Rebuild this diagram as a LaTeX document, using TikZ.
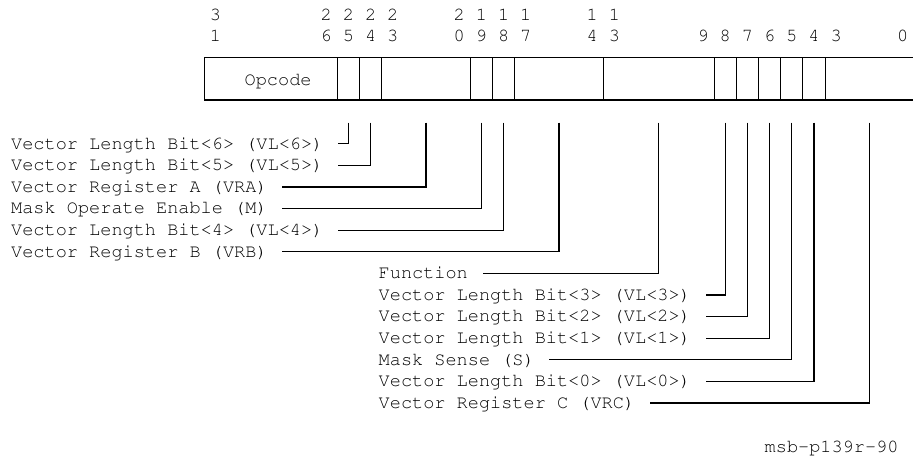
\documentclass[tikz,border=0pt]{standalone}
\usepackage[T1]{fontenc}
\usepackage{courier}
\begin{document}
\begin{tikzpicture}[x=1pt,y=-1pt,
  font=\fontsize{18.58}{21.6}\selectfont\ttfamily,
  field/.style={draw, line width=1.1pt, minimum height=42.3pt, inner sep=0pt, outer sep=0pt, anchor=north west},
  lab/.style={anchor=west, inner xsep=14.5pt, inner ysep=0pt, text height=10.6pt, text depth=0pt},
  conn/.style={line width=1.1pt},
  digit/.style={anchor=base, inner sep=0pt}]
\useasboundingbox (0,0) rectangle (913,460);
\fill[white] (0,0) rectangle (913,460);
% bit numbers
\foreach \b/\t/\u in {31/3/1,26/2/6,25/2/5,24/2/4,23/2/3,20/2/0,19/1/9,18/1/8,17/1/7,14/1/4,13/1/3}{
  \node[digit] (t\b) at ({204.3+(31.5-\b)*22.17}, 20.7) {\t};
  \node[digit] (u\b) at ({204.3+(31.5-\b)*22.17}, 41.7) {\u};
}
\foreach \b in {9,8,7,6,5,4,3,0}{
  \node[digit] (u\b) at ({204.3+(31.5-\b)*22.17}, 41.7) {\b};
}
% fields
\node[field, minimum width=6*22.17pt] (op)  at ({204.3+0*22.17},57.7) {};
\node[field, minimum width=1*22.17pt] (vl6) at ({204.3+6*22.17},57.7) {};
\node[field, minimum width=1*22.17pt] (vl5) at ({204.3+7*22.17},57.7) {};
\node[field, minimum width=4*22.17pt] (vra) at ({204.3+8*22.17},57.7) {};
\node[field, minimum width=1*22.17pt] (m)   at ({204.3+12*22.17},57.7) {};
\node[field, minimum width=1*22.17pt] (vl4) at ({204.3+13*22.17},57.7) {};
\node[field, minimum width=4*22.17pt] (vrb) at ({204.3+14*22.17},57.7) {};
\node[field, minimum width=5*22.17pt] (fn)  at ({204.3+18*22.17},57.7) {};
\node[field, minimum width=1*22.17pt] (vl3) at ({204.3+23*22.17},57.7) {};
\node[field, minimum width=1*22.17pt] (vl2) at ({204.3+24*22.17},57.7) {};
\node[field, minimum width=1*22.17pt] (vl1) at ({204.3+25*22.17},57.7) {};
\node[field, minimum width=1*22.17pt] (s)   at ({204.3+26*22.17},57.7) {};
\node[field, minimum width=1*22.17pt] (vl0) at ({204.3+27*22.17},57.7) {};
\node[field, minimum width=4*22.17pt] (vrc) at ({204.3+28*22.17},57.7) {};
\node[anchor=base west, inner sep=0pt] (optext) at (244.5,85.5) {Opcode};
% labels
\node[lab] (lvl6) at (-3.5,143.8) {Vector Length Bit<6> (VL<6>)};
\node[lab] (lvl5) at (-3.5,165.4) {Vector Length Bit<5> (VL<5>)};
\node[lab] (lvra) at (-3.5,187.0) {Vector Register A (VRA)};
\node[lab] (lm)   at (-3.5,208.6) {Mask Operate Enable (M)};
\node[lab] (lvl4) at (-3.5,230.2) {Vector Length Bit<4> (VL<4>)};
\node[lab] (lvrb) at (-3.5,251.8) {Vector Register B (VRB)};
\node[lab] (lfn)  at (364,273.4) {Function};
\node[lab] (lvl3) at (364,295.0) {Vector Length Bit<3> (VL<3>)};
\node[lab] (lvl2) at (364,316.6) {Vector Length Bit<2> (VL<2>)};
\node[lab] (lvl1) at (364,338.2) {Vector Length Bit<1> (VL<1>)};
\node[lab] (ls)   at (364,359.8) {Mask Sense (S)};
\node[lab] (lvl0) at (364,381.4) {Vector Length Bit<0> (VL<0>)};
\node[lab] (lvrc) at (364,403.0) {Vector Register C (VRC)};
% connectors
\foreach \f/\l in {vl6/lvl6,vl5/lvl5,vra/lvra,m/lm,vl4/lvl4,vrb/lvrb,fn/lfn,vl3/lvl3,vl2/lvl2,vl1/lvl1,s/ls,vl0/lvl0,vrc/lvrc}{
  \draw[conn] ([yshift=-22.7pt]\f.south) |- (\l.east);
}
\node[anchor=base west, inner sep=0pt] (tag) at (764.5,452.5) {msb-p139r-90};
\end{tikzpicture}
\end{document}
